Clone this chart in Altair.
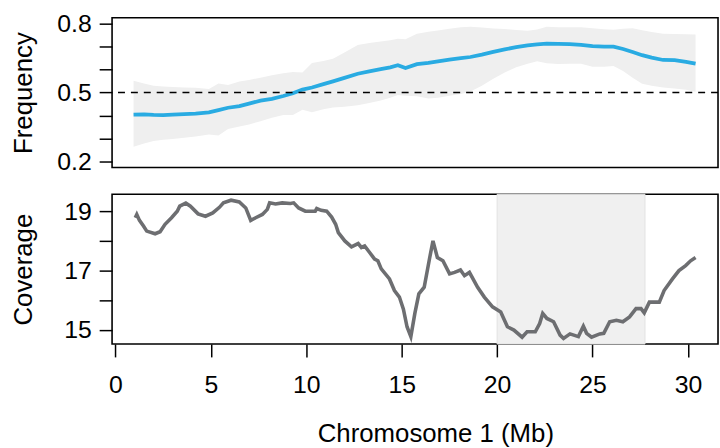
import altair as alt
import pandas as pd

# Allele frequency along chromosome 1: window position (Mb), mean and spread
freq_pos = [0.95, 1.5, 2.0, 2.5, 3.0, 3.6, 4.2, 4.9, 5.4, 5.9, 6.5, 7.0, 7.6, 8.2,
            8.8, 9.3, 9.8, 10.3, 10.9, 11.4, 12.0, 12.7, 13.3, 13.9, 14.4, 14.8,
            15.2, 15.8, 16.4, 16.9, 17.5, 18.1, 18.6, 19.2, 19.8, 20.4, 21.0, 21.6,
            22.1, 22.6, 23.2, 23.8, 24.4, 25.0, 25.6, 26.1, 26.6, 27.1, 27.6, 28.1,
            28.7, 29.3, 29.9, 30.4]
freq_mean = [0.404, 0.405, 0.403, 0.402, 0.404, 0.406, 0.408, 0.414, 0.424, 0.434,
             0.441, 0.452, 0.465, 0.473, 0.485, 0.497, 0.513, 0.522, 0.537, 0.549,
             0.564, 0.582, 0.592, 0.602, 0.610, 0.619, 0.607, 0.624, 0.629, 0.636,
             0.644, 0.650, 0.655, 0.665, 0.677, 0.688, 0.698, 0.706, 0.710, 0.713,
             0.712, 0.711, 0.708, 0.702, 0.700, 0.700, 0.690, 0.677, 0.663, 0.652,
             0.642, 0.641, 0.634, 0.626]
freq_low = [0.264, 0.278, 0.289, 0.295, 0.298, 0.303, 0.309, 0.318, 0.313, 0.342,
            0.352, 0.361, 0.375, 0.390, 0.402, 0.402, 0.425, 0.414, 0.427, 0.435,
            0.438, 0.445, 0.455, 0.466, 0.478, 0.490, 0.486, 0.484, 0.474, 0.478,
            0.486, 0.494, 0.505, 0.530, 0.560, 0.588, 0.610, 0.626, 0.637, 0.628,
            0.624, 0.626, 0.626, 0.612, 0.612, 0.616, 0.594, 0.565, 0.538, 0.530,
            0.522, 0.518, 0.512, 0.504]
freq_high = [0.552, 0.540, 0.530, 0.527, 0.524, 0.522, 0.521, 0.516, 0.540, 0.533,
             0.548, 0.555, 0.565, 0.576, 0.584, 0.590, 0.588, 0.629, 0.638, 0.647,
             0.675, 0.707, 0.716, 0.722, 0.728, 0.734, 0.732, 0.756, 0.765, 0.770,
             0.778, 0.784, 0.787, 0.783, 0.779, 0.777, 0.773, 0.769, 0.775, 0.787,
             0.785, 0.784, 0.784, 0.780, 0.776, 0.774, 0.778, 0.780, 0.772, 0.764,
             0.756, 0.755, 0.754, 0.753]

# Read coverage along chromosome 1
cov_pos = [1.04, 1.12, 1.26, 1.47, 1.64, 2.08, 2.34, 2.60, 2.94, 3.24, 3.37, 3.69,
           3.93, 4.33, 4.72, 5.10, 5.45, 5.66, 6.06, 6.49, 6.83, 7.09, 7.35, 7.70,
           7.96, 8.08, 8.39, 8.74, 9.17, 9.34, 9.60, 9.95, 10.47, 10.55, 10.78,
           11.07, 11.33, 11.54, 11.68, 12.02, 12.37, 12.72, 12.89, 13.06, 13.32,
           13.58, 13.75, 13.93, 14.36, 14.62, 14.88, 15.09, 15.28, 15.48, 15.69,
           15.90, 16.18, 16.47, 16.64, 16.87, 17.16, 17.51, 17.77, 18.08, 18.29,
           18.55, 18.98, 19.33, 19.76, 20.19, 20.54, 20.88, 21.31, 21.57, 22.00,
           22.23, 22.39, 22.61, 22.96, 23.30, 23.48, 23.82, 24.26, 24.52, 24.69,
           24.95, 25.38, 25.59, 25.90, 26.25, 26.59, 26.94, 27.28, 27.54, 27.71,
           27.98, 28.50, 28.75, 29.19, 29.53, 29.88, 30.14, 30.40]
cov_val = [18.78, 18.89, 18.69, 18.50, 18.33, 18.24, 18.31, 18.56, 18.78, 19.00,
           19.17, 19.27, 19.17, 18.91, 18.83, 18.94, 19.13, 19.28, 19.37, 19.31,
           19.11, 18.69, 18.78, 18.89, 19.06, 19.28, 19.24, 19.28, 19.26, 19.28,
           19.11, 19.00, 19.00, 19.09, 19.03, 19.00, 18.80, 18.56, 18.28, 18.00,
           17.80, 17.91, 17.78, 17.83, 17.61, 17.39, 17.33, 17.06, 16.72, 16.33,
           16.11, 15.70, 15.11, 14.78, 15.56, 16.22, 16.44, 17.44, 18.00, 17.44,
           17.33, 16.89, 16.94, 17.02, 16.83, 16.94, 16.44, 16.11, 15.78, 15.61,
           15.11, 15.00, 14.76, 14.94, 14.94, 15.22, 15.56, 15.39, 15.28, 14.83,
           14.72, 14.87, 14.78, 15.13, 14.89, 14.76, 14.87, 14.89, 15.28, 15.33,
           15.28, 15.44, 15.72, 15.72, 15.58, 15.94, 15.94, 16.33, 16.72, 17.00,
           17.17, 17.33, 17.44]

# Highlighted interval (Mb)
region_start = [20.0]
region_end = [27.75]

x_ticks = [0, 5, 10, 15, 20, 25, 30]
freq_ticks = [0.2, 0.3, 0.4, 0.5, 0.6, 0.7, 0.8]
cov_ticks = [15, 16, 17, 18, 19]
midline = [0.5]

FONT = "Liberation Sans"

freq_df = pd.DataFrame({"pos": freq_pos, "mean": freq_mean,
                        "low": freq_low, "high": freq_high})
cov_df = pd.DataFrame({"pos": cov_pos, "cov": cov_val})
region_df = pd.DataFrame({"start": region_start, "end": region_end})
mid_df = pd.DataFrame({"y": midline})

PANEL_W = 611
x_scale = alt.Scale(domain=[-0.176, 31.576], nice=False, zero=False)
freq_scale = alt.Scale(domain=[0.174, 0.826], nice=False, zero=False)
cov_scale = alt.Scale(domain=[14.53, 19.57], nice=False, zero=False)

freq_axis = alt.Axis(values=freq_ticks, title="Frequency",
                     labelExpr="(round(datum.value*10) - 2) % 3 == 0 ? format(datum.value, '.1f') : ''",
                     titleX=-81, titleBaseline="alphabetic")
cov_axis = alt.Axis(values=cov_ticks, title="Coverage",
                    labelExpr="datum.value % 2 == 1 ? datum.label : ''",
                    titleX=-81, titleBaseline="alphabetic")
x_axis = alt.Axis(values=x_ticks, title="Chromosome 1 (Mb)",
                  labelBaseline="alphabetic", labelPadding=36,
                  titleBaseline="alphabetic", titleY=98, titleX=326)

band = alt.Chart(freq_df).mark_area(color="#efefef", opacity=1).encode(
    x=alt.X("pos:Q", scale=x_scale, axis=None),
    y=alt.Y("low:Q", scale=freq_scale, axis=freq_axis),
    y2="high:Q",
)
freq_line = alt.Chart(freq_df).mark_line(color="#29abe2", strokeWidth=3.8).encode(
    x=alt.X("pos:Q", scale=x_scale, axis=None),
    y=alt.Y("mean:Q", scale=freq_scale, axis=freq_axis),
)
half = alt.Chart(mid_df).mark_rule(color="black", strokeDash=[7, 6], strokeWidth=1.5).encode(
    y=alt.Y("y:Q", scale=freq_scale, axis=freq_axis),
)
top = alt.layer(band, freq_line, half).properties(width=PANEL_W, height=151)

shade = alt.Chart(region_df).mark_rect(color="#f0f0f0", stroke="#e3e3e3", strokeWidth=1).encode(
    x=alt.X("start:Q", scale=x_scale, axis=x_axis),
    x2="end:Q",
)
cov_line = alt.Chart(cov_df).mark_line(color="#6d6e71", strokeWidth=3.6).encode(
    x=alt.X("pos:Q", scale=x_scale, axis=x_axis),
    y=alt.Y("cov:Q", scale=cov_scale, axis=cov_axis),
)
bottom = alt.layer(shade, cov_line).properties(width=PANEL_W, height=151)

chart = (
    alt.vconcat(top, bottom, spacing=16)
    .properties(padding={"left": 10, "top": 9, "right": 0, "bottom": 0},
                background="white")
    .configure_view(stroke="black", strokeWidth=1.6)
    .configure_axis(
        grid=False, domain=False,
        tickColor="black", tickWidth=1.5, tickSize=13,
        labelFont=FONT, labelFontSize=25, labelColor="black", labelPadding=8,
        titleFont=FONT, titleFontSize=26, titleColor="black", titleFontWeight="normal",
    )
)

chart.save("out.html", embed_options={"renderer": "svg", "actions": False})
